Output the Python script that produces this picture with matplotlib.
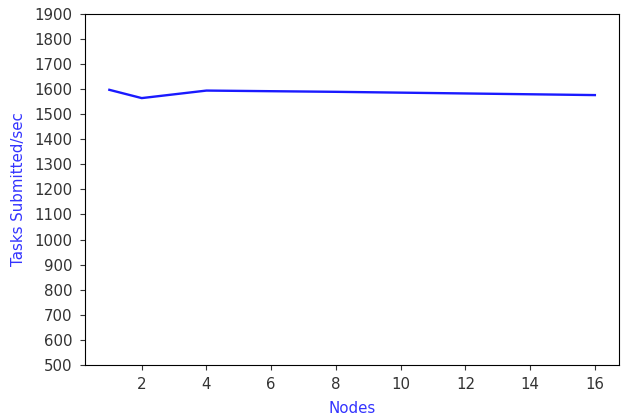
import matplotlib
matplotlib.use("Agg")
from matplotlib import pyplot as plt

# nodes vs submitted tasks per second
nodes = [1, 2, 4, 8, 16]
tasks_per_sec = [1597, 1564, 1594, 1589, 1576]

plt.rcParams['font.size'] = 10.8

fig = plt.figure(figsize=(6.21, 4.19), dpi=100)
ax = fig.add_axes([0.137, 0.129, 0.86, 0.838])
ax.plot(nodes, tasks_per_sec, color='#1a1aff', linewidth=1.7)
ax.set_ylim(500, 1900)
ax.set_yticks(range(500, 2000, 100))
ax.set_xticks(range(2, 17, 2))
ax.set_xlabel('Nodes', color='#3333ff', labelpad=6)
ax.set_ylabel('Tasks Submitted/sec', color='#3333ff', labelpad=6)
ax.tick_params(colors='#333333', labelcolor='#333333', pad=5.5)

fig.savefig('out.png', dpi=100)
